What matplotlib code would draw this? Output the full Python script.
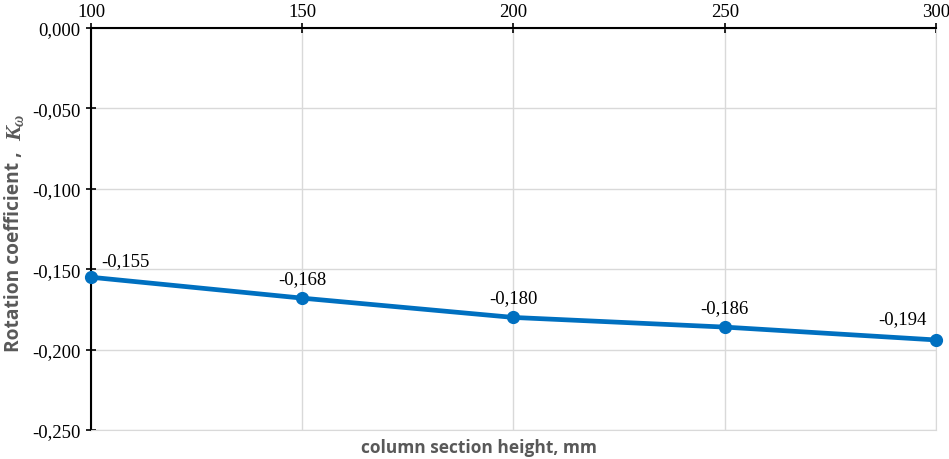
import matplotlib
matplotlib.use("Agg")
import matplotlib.pyplot as plt
from matplotlib.ticker import FuncFormatter

heights = [100, 150, 200, 250, 300]
k_omega = [-0.155, -0.168, -0.180, -0.186, -0.194]
x_ticks = [100, 150, 200, 250, 300]
y_ticks = [0.0, -0.05, -0.10, -0.15, -0.20, -0.25]

plt.rcParams['font.family'] = ['Liberation Serif', 'DejaVu Serif']
plt.rcParams['mathtext.fontset'] = 'custom'
plt.rcParams['mathtext.it'] = 'Liberation Serif:italic:bold'
plt.rcParams['mathtext.rm'] = 'Liberation Serif:bold'

W, H = 949, 460
fig = plt.figure(figsize=(W/100, H/100), dpi=100)
ax = fig.add_axes([91/W, 1-431/H, (936-91)/W, (431-29)/H])

color = '#0070C0'
ax.plot(heights, k_omega, color=color, lw=3.4, marker='o', ms=8.5, zorder=5, clip_on=False)

offsets = [(25, 6), (0, 8), (0, 8), (0, 8), (-24, 9.5)]
for x, y, off in zip(heights, k_omega, offsets):
    ax.annotate(f"{y:.3f}".replace('.', ','), (x, y), xytext=off, textcoords='offset points',
                ha='center', va='bottom', fontsize=13.5, color='black')

ax.set_xlim(100, 300)
ax.set_ylim(-0.25, 0.0)
ax.set_xticks(x_ticks)
ax.set_yticks(y_ticks)
ax.xaxis.tick_top()
ax.yaxis.set_major_formatter(FuncFormatter(lambda v, p: f"{v:.3f}".replace('.', ',').replace('-0,000', '0,000')))
ax.tick_params(axis='both', direction='inout', length=7, width=1.2, color='black',
               labelsize=13.5, pad=4)
ax.tick_params(axis='x', pad=2)

ax.grid(True, color='#d9d9d9', lw=1)
ax.set_axisbelow(True)
for s in ['bottom', 'right']:
    ax.spines[s].set_color('#d9d9d9')
for s in ['top', 'left']:
    ax.spines[s].set_color('black')
    ax.spines[s].set_linewidth(1.5)

gray = '#595959'
fig.text(479/W, 1-448/H, "column section height, mm", fontsize=12.5, fontweight='bold', color=gray,
         family='Open Sans', ha='center', va='center')
fig.text(14/W, 1-352/H, "Rotation coefficient ,", fontsize=13.8, fontweight='bold', color=gray,
         family='Open Sans', rotation=90, ha='center', va='bottom')
fig.text(15/W, 1-113/H, r"$K_{\omega}$", fontsize=16, color=gray,
         rotation=90, ha='center', va='top')

fig.savefig('out.png', dpi=100)
